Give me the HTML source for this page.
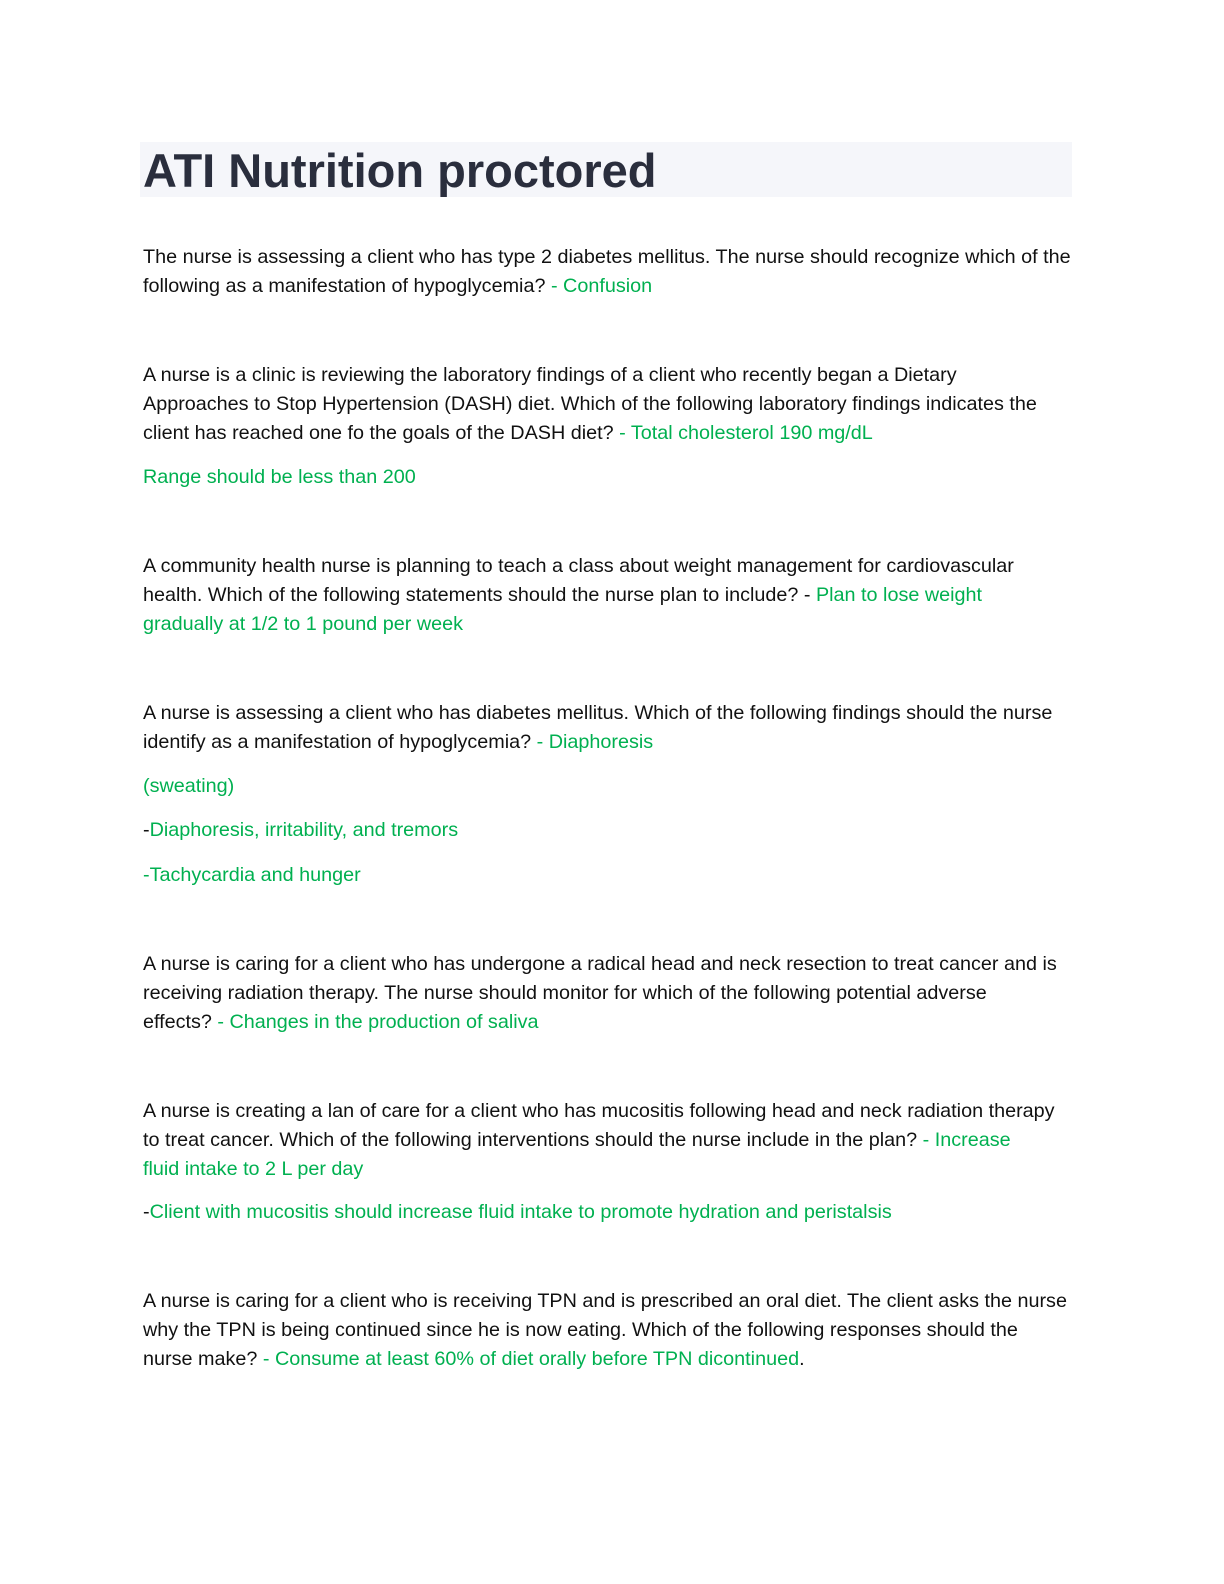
<!DOCTYPE html>
<html><head><meta charset="utf-8"><style>
html,body{margin:0;padding:0;background:#fff;}
body{width:1224px;height:1584px;position:relative;overflow:hidden;font-family:"Liberation Sans",Arial,sans-serif;}
.t{position:absolute;left:143px;font-size:19.8px;color:#111;white-space:nowrap;line-height:24px;}
.g{color:#00b050;}
.title{position:absolute;left:140px;top:142px;width:932px;height:55px;background:#f5f6fa;}
.title span{position:absolute;left:3px;top:1px;font-size:47px;font-weight:bold;color:#2a2e3d;line-height:56px;}
</style></head><body>
<div class="title"><span>ATI Nutrition proctored</span></div>

<div class="t" style="top:245px">The nurse is assessing a client who has type 2 diabetes mellitus. The nurse should recognize which of the</div>
<div class="t" style="top:274px">following as a manifestation of hypoglycemia? <span class="g">- Confusion</span></div>

<div class="t" style="top:363px">A nurse is a clinic is reviewing the laboratory findings of a client who recently began a Dietary</div>
<div class="t" style="top:392px">Approaches to Stop Hypertension (DASH) diet. Which of the following laboratory findings indicates the</div>
<div class="t" style="top:421px">client has reached one fo the goals of the DASH diet? <span class="g">- Total cholesterol 190 mg/dL</span></div>
<div class="t g" style="top:465px">Range should be less than 200</div>

<div class="t" style="top:554px">A community health nurse is planning to teach a class about weight management for cardiovascular</div>
<div class="t" style="top:583px">health. Which of the following statements should the nurse plan to include? - <span class="g">Plan to lose weight</span></div>
<div class="t g" style="top:612px">gradually at 1/2 to 1 pound per week</div>

<div class="t" style="top:701px">A nurse is assessing a client who has diabetes mellitus. Which of the following findings should the nurse</div>
<div class="t" style="top:730px">identify as a manifestation of hypoglycemia? <span class="g">- Diaphoresis</span></div>
<div class="t g" style="top:774px">(sweating)</div>
<div class="t" style="top:818px">-<span class="g">Diaphoresis, irritability, and tremors</span></div>
<div class="t g" style="top:863px">-Tachycardia and hunger</div>

<div class="t" style="top:952px">A nurse is caring for a client who has undergone a radical head and neck resection to treat cancer and is</div>
<div class="t" style="top:981px">receiving radiation therapy. The nurse should monitor for which of the following potential adverse</div>
<div class="t" style="top:1010px">effects? <span class="g">- Changes in the production of saliva</span></div>

<div class="t" style="top:1099px">A nurse is creating a lan of care for a client who has mucositis following head and neck radiation therapy</div>
<div class="t" style="top:1128px">to treat cancer. Which of the following interventions should the nurse include in the plan? <span class="g">- Increase</span></div>
<div class="t g" style="top:1157px">fluid intake to 2 L per day</div>
<div class="t" style="top:1200px">-<span class="g">Client with mucositis should increase fluid intake to promote hydration and peristalsis</span></div>

<div class="t" style="top:1289px">A nurse is caring for a client who is receiving TPN and is prescribed an oral diet. The client asks the nurse</div>
<div class="t" style="top:1318px">why the TPN is being continued since he is now eating. Which of the following responses should the</div>
<div class="t" style="top:1347px">nurse make? <span class="g">- Consume at least 60% of diet orally before TPN dicontinued</span>.</div>
</body></html>
